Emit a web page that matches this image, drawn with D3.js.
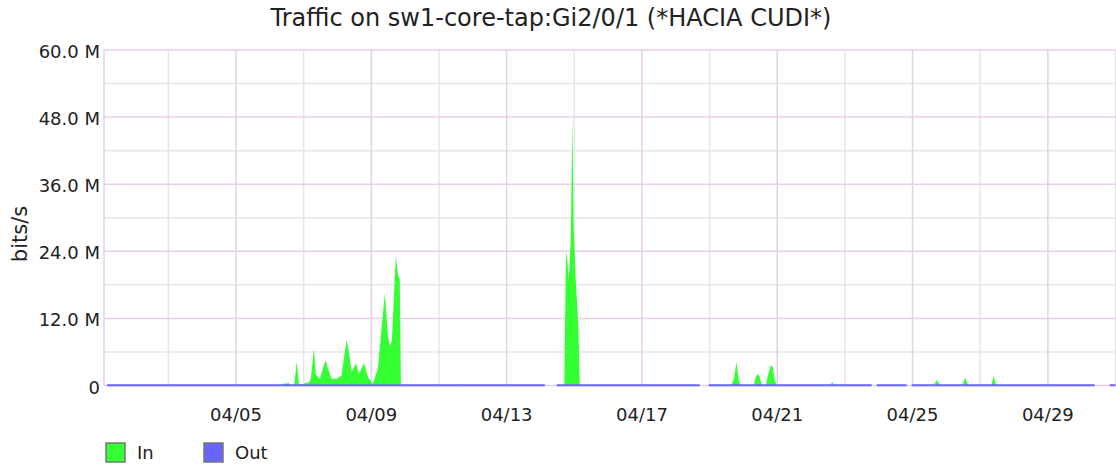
<!DOCTYPE html>
<html>
<head>
<meta charset="utf-8">
<script src="https://cdn.jsdelivr.net/npm/d3@7"></script>
<style>
    body { margin: 0; background: #fff; }
    text { font-family: "DejaVu Sans", sans-serif; }
</style>
</head>
<body>
<div id="chartArea"></div>
<script>
// series In (bits/s)
var inTimes = [
    "04-01 04:30", "04-06 07:10", "04-06 10:00", "04-06 13:30", "04-06 15:40", "04-06 17:25",
    "04-06 19:00", "04-06 20:40", "04-06 22:00", "04-07 00:50", "04-07 03:40", "04-07 05:05",
    "04-07 07:15", "04-07 08:40", "04-07 11:30", "04-07 13:35", "04-07 15:35", "04-07 17:15",
    "04-07 19:50", "04-07 23:25", "04-08 02:55", "04-08 04:35", "04-08 06:30", "04-08 08:05",
    "04-08 10:00", "04-08 13:05", "04-08 15:10", "04-08 18:45", "04-08 21:35", "04-09 01:05",
    "04-09 04:40", "04-09 06:50", "04-09 09:35", "04-09 11:45", "04-09 13:10", "04-09 14:35",
    "04-09 17:25", "04-09 18:50", "04-09 20:10", "04-09 21:00", "04-11 15:00", "04-11 16:55",
    "04-11 18:50", "04-14 03:05", "04-14 11:35", "04-14 16:55", "04-14 18:00", "04-14 18:35",
    "04-14 20:05", "04-14 21:30", "04-14 22:40", "04-14 23:35", "04-15 01:00", "04-15 02:50",
    "04-15 03:55", "04-18 17:00", "04-18 23:25", "04-19 15:00", "04-19 17:05", "04-19 19:05",
    "04-19 20:40", "04-19 22:05", "04-20 07:20", "04-20 08:45", "04-20 10:25", "04-20 11:35",
    "04-20 13:00", "04-20 15:50", "04-20 17:35", "04-20 19:25", "04-20 20:50", "04-20 22:15",
    "04-20 23:40", "04-22 13:10", "04-22 15:05", "04-22 16:45", "04-23 19:00", "04-23 22:35",
    "04-24 19:50", "04-24 23:25", "04-25 15:00", "04-25 17:20", "04-25 19:35", "04-26 11:10",
    "04-26 13:25", "04-26 15:25", "04-27 07:50", "04-27 09:35", "04-27 11:20", "04-30 09:10",
    "04-30 19:50", "05-01 00:00"
];
var inValues = [
    0, 0, 0.3, 0.4, 0, 0.2,
    4.2, 0.3, 0, 0.4, 0.5, 1.2,
    6.6, 2.0, 1.2, 3.0, 4.5, 3.0,
    1.2, 1.2, 1.8, 5.0, 8.2, 6.0,
    2.4, 4.0, 2.1, 4.0, 1.5, 0.3,
    3.0, 9.0, 16.5, 9.0, 6.9, 8.0,
    23.3, 20.0, 19.0, 0, 0, 0.2,
    0, null, 0, 0, 22.0, 24.0,
    19.0, 26.0, 47.5, 28.0, 19.0, 11.0,
    0, null, 0, 0, 1.0, 4.2,
    1.0, 0, 0, 1.5, 2.1, 1.5,
    0, 0, 2.0, 3.6, 3.3, 1.0,
    0, 0, 0.6, 0, null, 0,
    null, 0, 0, 1.0, 0, 0,
    1.4, 0, 0, 1.7, 0, null,
    0, 0
];
// series Out, flat near zero with holes where no data
var outTimes = [
    "04-01 04:30", "04-14 03:05", "04-14 07:00", "04-14 11:35", "04-18 17:00", "04-18 20:00",
    "04-18 23:25", "04-23 19:00", "04-23 21:00", "04-23 22:35", "04-24 19:50", "04-24 21:30",
    "04-24 23:25", "04-30 09:10", "04-30 14:00", "04-30 19:50", "05-01 00:00"
];
var outValues = [
    0.05, 0.05, null, 0.05, 0.05, null,
    0.05, 0.05, null, 0.05, 0.05, null,
    0.05, 0.05, null, 0.05, 0.05
];
var yTicks = [0, 12, 24, 36, 48, 60];
var yTickLabels = ["0", "12.0 M", "24.0 M", "36.0 M", "48.0 M", "60.0 M"];
var yMinorTicks = [6, 18, 30, 42, 54];
var xTickLabels = ["04/05", "04/09", "04/13", "04/17", "04/21", "04/25", "04/29"];
var xMinorTicks = ["04/03", "04/07", "04/11", "04/15", "04/19", "04/23", "04/27", "05/01"];

var width = 1116;
var height = 467;
var plot = {left: 104, right: 1115.5, top: 50, bottom: 385.5};

var parseT = d3.timeParse("%Y-%m-%d %H:%M");
var parseDay = d3.timeParse("%Y-%m/%d");

var inData = inTimes.map(function (t, i) {
    return {t: parseT("2020-" + t), v: inValues[i]};
});
var outData = outTimes.map(function (t, i) {
    return {t: parseT("2020-" + t), v: outValues[i]};
});

var svg = d3.select("#chartArea")
    .append("svg")
    .attr("width", width)
    .attr("height", height);

var x = d3.scaleTime()
    .domain([parseT("2020-04-01 02:20"), parseT("2020-05-01 00:00")])
    .range([plot.left, plot.right]);
var y = d3.scaleLinear()
    .domain([0, 60])
    .range([plot.bottom, plot.top]);

//网格线
var grid = svg.append("g");
grid.selectAll("line.hmin")
    .data(yMinorTicks)
    .enter()
    .append("line")
    .attr("x1", plot.left).attr("x2", plot.right)
    .attr("y1", function (d) { return y(d); })
    .attr("y2", function (d) { return y(d); })
    .attr("stroke", "#e6e6e6")
    .attr("stroke-width", 1.5);
grid.selectAll("line.vmin")
    .data(xMinorTicks)
    .enter()
    .append("line")
    .attr("x1", function (d) { return Math.min(x(parseDay("2020-" + d)), plot.right); })
    .attr("x2", function (d) { return Math.min(x(parseDay("2020-" + d)), plot.right); })
    .attr("y1", plot.top).attr("y2", plot.bottom)
    .attr("stroke", "#e6e6e6")
    .attr("stroke-width", 1.5);
grid.selectAll("line.hmaj")
    .data(yTicks)
    .enter()
    .append("line")
    .attr("x1", plot.left).attr("x2", plot.right)
    .attr("y1", function (d) { return y(d); })
    .attr("y2", function (d) { return y(d); })
    .attr("stroke", "#e8cfe8")
    .attr("stroke-width", 1.5);
grid.selectAll("line.vmaj")
    .data(xTickLabels)
    .enter()
    .append("line")
    .attr("x1", function (d) { return x(parseDay("2020-" + d)); })
    .attr("x2", function (d) { return x(parseDay("2020-" + d)); })
    .attr("y1", plot.top).attr("y2", plot.bottom)
    .attr("stroke", "#e8cfe8")
    .attr("stroke-width", 1.5);
// left edge
grid.append("line")
    .attr("x1", plot.left).attr("x2", plot.left)
    .attr("y1", plot.top).attr("y2", plot.bottom)
    .attr("stroke", "#e8cfe8")
    .attr("stroke-width", 1.5);

//In 面积
var area = d3.area()
    .defined(function (d) { return d.v !== null; })
    .x(function (d) { return x(d.t); })
    .y0(y(0))
    .y1(function (d) { return y(d.v); });
svg.append("path")
    .datum(inData)
    .attr("fill", "#33ff33")
    .attr("d", area);

//Out 线
var line = d3.line()
    .defined(function (d) { return d.v !== null; })
    .x(function (d) { return x(d.t); })
    .y(function (d) { return y(d.v); });
svg.append("path")
    .datum(outData)
    .attr("fill", "none")
    .attr("stroke", "#6666ff")
    .attr("stroke-width", 2)
    .attr("d", line);

//坐标轴文字
svg.append("g")
    .selectAll("text")
    .data(yTicks)
    .enter()
    .append("text")
    .attr("x", 100)
    .attr("y", function (d) { return y(d) + 8; })
    .attr("text-anchor", "end")
    .attr("font-size", "18px")
    .attr("fill", "#222")
    .text(function (d, i) { return yTickLabels[i]; });
svg.append("g")
    .selectAll("text")
    .data(xTickLabels)
    .enter()
    .append("text")
    .attr("x", function (d) { return x(parseDay("2020-" + d)); })
    .attr("y", 421)
    .attr("text-anchor", "middle")
    .attr("font-size", "18px")
    .attr("fill", "#222")
    .text(function (d) { return d; });

svg.append("text")
    .attr("transform", "translate(27,234) rotate(-90)")
    .attr("text-anchor", "middle")
    .attr("font-size", "21px")
    .attr("fill", "#222")
    .text("bits/s");

//标题
svg.append("text")
    .attr("x", 551)
    .attr("y", 26)
    .attr("text-anchor", "middle")
    .attr("font-size", "24px")
    .attr("fill", "#222")
    .text("Traffic on sw1-core-tap:Gi2/0/1 (*HACIA CUDI*)");

//图例
var legend = [{name: "In", color: "#33ff33", x: 106}, {name: "Out", color: "#6666ff", x: 204}];
var lg = svg.append("g")
    .selectAll("g")
    .data(legend)
    .enter()
    .append("g")
    .attr("transform", function (d) { return "translate(" + d.x + ",443)"; });
lg.append("rect")
    .attr("width", 19)
    .attr("height", 19)
    .attr("fill", function (d) { return d.color; })
    .attr("stroke", "#777")
    .attr("stroke-width", 1.5);
lg.append("text")
    .attr("x", 31)
    .attr("y", 16)
    .attr("font-size", "18px")
    .attr("fill", "#222")
    .text(function (d) { return d.name; });
</script>
</body>
</html>
